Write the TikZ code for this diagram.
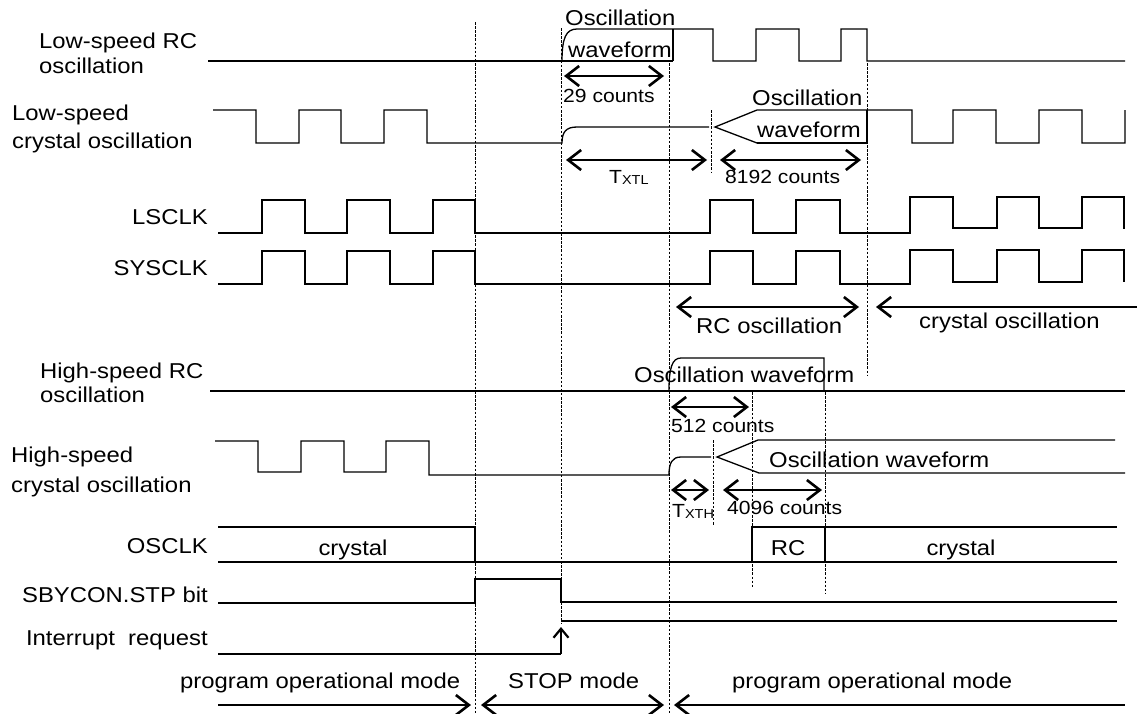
\documentclass[tikz,border=0pt]{standalone}
\usepackage{fontspec}
\setmainfont{Liberation Sans}[FakeStretch=1.11]
\usetikzlibrary{arrows.meta}
\newcommand\mainfs{\fontsize{21.5}{24}\selectfont}
\newcommand\smallfs{\fontsize{19}{21}\selectfont}
\newcommand\subfs{\fontsize{13}{14}\selectfont}
\tikzset{
  wave/.style={line width=1.3pt, line join=miter},
  guide/.style={line width=0.7pt, dash pattern=on 2.5pt off 1.6pt},
  dimarrow/.style={line width=2.6pt},
  lbl/.style={inner sep=0pt, font=\mainfs},
  sml/.style={inner sep=0pt, font=\smallfs},
}
\begin{document}
\begin{tikzpicture}[x=1pt,y=-1pt,>={Straight Barb[length=13pt,width=20pt]}]
\useasboundingbox (0,0) rectangle (1137,713);

% ---------- guide lines ----------
\draw[guide] (475,22) -- (475,713);
\draw[guide] (561,28) -- (561,623);
\draw[guide] (669,63) -- (669,713);
\draw[guide] (711,110) -- (711,172);
\draw[guide] (867,63) -- (867,375);
\draw[guide] (752,392) -- (752,588);
\draw[guide] (825,392) -- (825,593);
\draw[guide] (713,440) -- (713,525);

% ---------- labels ----------
\node[lbl, anchor=base west] (l1a) at (39,48) {Low-speed RC};
\node[lbl, anchor=base west] (l1b) at (39,73) {oscillation};
\node[lbl, anchor=base west] (l2a) at (12,120) {Low-speed};
\node[lbl, anchor=base west] (l2b) at (12,148) {crystal oscillation};
\node[lbl, anchor=base east] (l3) at (208,224) {LSCLK};
\node[lbl, anchor=base east] (l4) at (208,275) {SYSCLK};
\node[lbl, anchor=base west] (l5a) at (40,378) {High-speed RC};
\node[lbl, anchor=base west] (l5b) at (40,402) {oscillation};
\node[lbl, anchor=base west] (l6a) at (11,462) {High-speed};
\node[lbl, anchor=base west] (l6b) at (11,492) {crystal oscillation};
\node[lbl, anchor=base east] (l7) at (208,553) {OSCLK};
\node[lbl, anchor=base east] (l8) at (208,602) {SBYCON.STP bit};
\node[lbl, anchor=base east] (l9) at (208,645) {Interrupt\ \ request};

% ---------- Low-speed RC oscillation ----------
\draw[wave] (208,61) -- (673,61);
\draw[wave] (562,61) .. controls (562,38) and (566,29) .. (577,29) -- (713,29) -- (713,61)
  -- (756,61) -- (756,29) -- (799,29) -- (799,61) -- (841,61) -- (841,29) -- (867,29) -- (867,61) -- (1125,61);
\draw[wave] (673,29) -- (673,61);
\node[lbl, anchor=base west] (o1a) at (565,25) {Oscillation};
\node[lbl, anchor=base west] (o1b) at (568,57) {waveform};
\draw[dimarrow,<->] (564,76) -- (664,76);
\node[sml, anchor=base west] (c29) at (563,102) {29 counts};

% ---------- Low-speed crystal oscillation ----------
\draw[wave] (213,110) -- (256,110) -- (256,143) -- (299,143) -- (299,110) -- (341,110) -- (341,143)
  -- (384,143) -- (384,110) -- (427,110) -- (427,143) -- (562,143)
  .. controls (562,132) and (566,127) .. (577,127) -- (709,127);
\draw[wave] (757,143) -- (715,127) -- (757,110) -- (912,110) -- (912,143) -- (953,143) -- (953,110)
  -- (996,110) -- (996,143) -- (1039,143) -- (1039,110) -- (1082,110) -- (1082,143) -- (1125,143) -- (1125,110);
\draw[wave] (757,143) -- (867,143) -- (867,110);
\node[lbl, anchor=base west] (o2a) at (752,105) {Oscillation};
\node[lbl, anchor=base west] (o2b) at (757,137) {waveform};
\draw[dimarrow,<->] (566,160) -- (707,160);
\draw[dimarrow,<->] (720,160) -- (861,160);
\node[sml, anchor=base west] (txtl) at (609,183) {T\raisebox{-1pt}{\subfs XTL}};
\node[sml, anchor=base west] (c8192) at (725,183) {8192 counts};

% ---------- LSCLK ----------
\draw[wave] (218,233) -- (262,233) -- (262,200) -- (305,200) -- (305,233) -- (347,233) -- (347,200)
  -- (390,200) -- (390,233) -- (433,233) -- (433,200) -- (475,200) -- (475,233) -- (710,233)
  -- (710,200) -- (753,200) -- (753,233) -- (796,233) -- (796,200) -- (840,200) -- (840,233)
  -- (910,233) -- (910,197) -- (953,197) -- (953,228) -- (997,228) -- (997,197) -- (1039,197)
  -- (1039,228) -- (1082,228) -- (1082,197) -- (1124,197) -- (1124,229);

% ---------- SYSCLK ----------
\draw[wave] (218,284) -- (262,284) -- (262,251) -- (305,251) -- (305,284) -- (347,284) -- (347,251)
  -- (390,251) -- (390,284) -- (433,284) -- (433,251) -- (475,251) -- (475,284) -- (710,284)
  -- (710,251) -- (753,251) -- (753,284) -- (796,284) -- (796,251) -- (840,251) -- (840,284)
  -- (910,284) -- (910,250) -- (953,250) -- (953,282) -- (997,282) -- (997,250) -- (1039,250)
  -- (1039,282) -- (1082,282) -- (1082,250) -- (1124,250) -- (1124,282);

% ---------- RC / crystal oscillation spans ----------
\draw[dimarrow,<->] (676,307) -- (859,307);
\draw[dimarrow,<-] (876,307) -- (1137,307);
\node[lbl, anchor=base west] (rco) at (696,333) {RC oscillation};
\node[lbl, anchor=base west] (cro) at (919,328) {crystal oscillation};

% ---------- High-speed RC oscillation ----------
\draw[wave] (210,391) -- (1125,391);
\draw[wave] (669,391) .. controls (669,368) and (672,358) .. (681,358) -- (824,358) -- (824,391);
\node[lbl, anchor=base west] (o3) at (634,382) {Oscillation waveform};
\draw[dimarrow,<->] (671,407) -- (749,407);
\node[sml, anchor=base west] (c512) at (671,432) {512 counts};

% ---------- High-speed crystal oscillation ----------
\draw[wave] (215,441) -- (258,441) -- (258,472) -- (301,472) -- (301,441) -- (344,441) -- (344,472)
  -- (386,472) -- (386,441) -- (429,441) -- (429,475) -- (669,475)
  .. controls (669,463) and (672,457) .. (681,457) -- (711,457);
\draw[wave] (1115,440) -- (758,440) -- (717,457) -- (759,473) -- (1125,473);
\node[lbl, anchor=base west] (o4) at (769,467) {Oscillation waveform};
\draw[dimarrow,<->] (671,490) -- (709,490);
\draw[dimarrow,<->] (723,490) -- (822,490);
\node[sml, anchor=base west] (txth) at (672,517) {T\raisebox{-1pt}{\subfs XTH}};
\node[sml, anchor=base west] (c4096) at (727,514) {4096 counts};

% ---------- OSCLK ----------
\draw[wave] (218,527) -- (475,527) -- (475,562);
\draw[wave] (218,562) -- (1117,562);
\draw[wave] (752,562) -- (752,527) -- (1117,527);
\draw[wave] (825,527) -- (825,562);
\node[lbl, anchor=base] (os1) at (353,555) {crystal};
\node[lbl, anchor=base] (os2) at (788,555) {RC};
\node[lbl, anchor=base] (os3) at (961,555) {crystal};

% ---------- SBYCON.STP bit ----------
\draw[wave] (218,603) -- (475,603) -- (475,579) -- (561,579) -- (561,602) -- (1117,602);

% ---------- Interrupt request ----------
\draw[wave] (218,654) -- (561,654);
\draw[line width=2.2pt,{Straight Barb[length=9pt,width=15pt]}-] (561,627) -- (561,654);
\draw[wave] (561,621) -- (1117,621);

% ---------- modes ----------
\node[lbl, anchor=base west] (m1) at (180,688) {program operational mode};
\node[lbl, anchor=base west] (m2) at (508,688) {STOP mode};
\node[lbl, anchor=base west] (m3) at (732,688) {program operational mode};
\draw[dimarrow,->] (218,705) -- (471,705);
\draw[dimarrow,<->] (481,705) -- (664,705);
\draw[dimarrow,<-] (674,705) -- (1125,705);
\end{tikzpicture}
\end{document}
